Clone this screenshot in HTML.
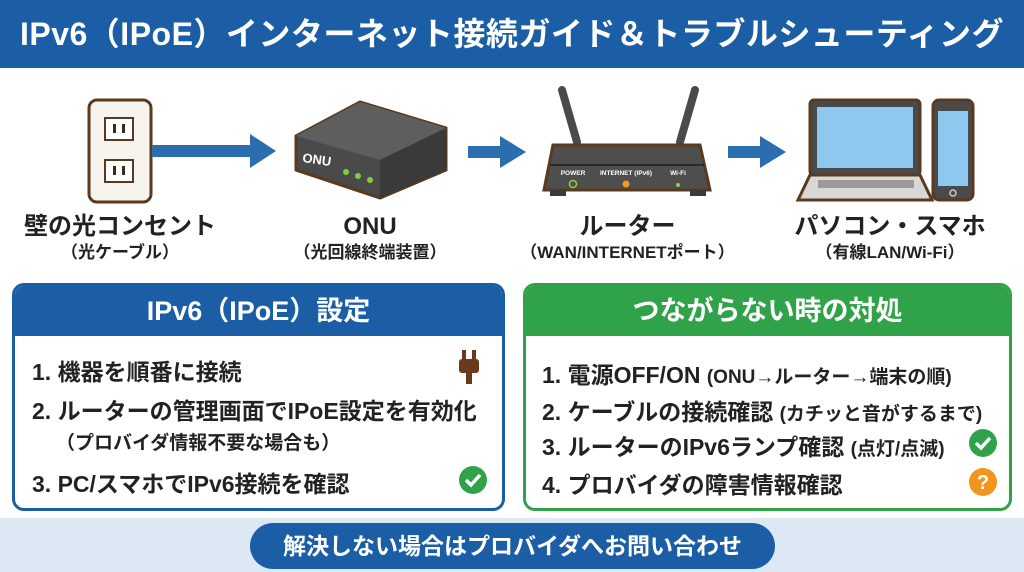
<!DOCTYPE html>
<html><head><meta charset="utf-8"><style>
*{margin:0;padding:0;box-sizing:border-box}
body{width:1024px;height:572px;overflow:hidden;background:#fff;font-family:"Liberation Sans","Noto Sans CJK JP",sans-serif;position:relative;color:#222}
.title{position:absolute;left:0;top:0;width:1024px;height:68px;background:#1b5ea6;color:#fff;font-size:32px;font-weight:bold;text-align:center;line-height:68px;letter-spacing:0.5px}
.lbl{position:absolute;text-align:center;font-weight:bold}
.lbl .a{font-size:24px;color:#222;line-height:30px}
.lbl .b{font-size:17px;color:#222;line-height:22px}
.panel{position:absolute;top:283px;height:228px;border:3px solid;border-radius:12px;overflow:hidden}
.panel .h{height:50px;color:#fff;font-size:27px;font-weight:bold;text-align:center;line-height:50px}
.it{position:absolute;font-size:23px;font-weight:bold;white-space:nowrap;color:#222}
.it small{font-size:19px}
.bot{position:absolute;left:0;top:518px;width:1024px;height:54px;background:#dce9f5}
.pill{position:absolute;left:250px;top:523px;width:525px;height:46px;background:#1b5ea6;border-radius:23px;color:#fff;font-size:23px;font-weight:bold;text-align:center;line-height:46px}
</style></head><body>
<div class="title">IPv6（IPoE）インターネット接続ガイド＆トラブルシューティング</div>

<svg style="position:absolute;left:0;top:70px" width="1024" height="140">
<rect x="89" y="30" width="62" height="102" rx="8" fill="#f7f4ee" stroke="#5a3a1e" stroke-width="3"/>
<rect x="105" y="48" width="28" height="22" fill="#fff" stroke="#5a3a1e" stroke-width="2"/>
<rect x="105" y="90" width="28" height="22" fill="#fff" stroke="#5a3a1e" stroke-width="2"/>
<rect x="113" y="54" width="3" height="9" fill="#3a2a1a"/><rect x="122" y="54" width="3" height="9" fill="#3a2a1a"/>
<rect x="113" y="96" width="3" height="9" fill="#3a2a1a"/><rect x="122" y="96" width="3" height="9" fill="#3a2a1a"/>
<rect x="152" y="75" width="100" height="12" fill="#2a6eb0"/><polygon points="250,64 276,81 250,98" fill="#2a6eb0"/>
<polygon points="296,66 360,32 446,58 446,100 380,128 296,100" fill="#4a4a4a" stroke="#5a3a1e" stroke-width="3"/>
<polygon points="296,66 360,32 446,58 380,90" fill="#5e5e5e"/>
<polygon points="380,90 446,58 446,100 380,128" fill="#3a3a3a"/>
<text x="302" y="92" fill="#fff" font-size="13" font-weight="bold" font-family="Liberation Sans" transform="rotate(8 302 92)">ONU</text>
<circle cx="346" cy="102" r="3" fill="#7ccf3a"/><circle cx="358" cy="106" r="3" fill="#7ccf3a"/><circle cx="370" cy="110" r="3" fill="#7ccf3a"/>
<rect x="468" y="76" width="34" height="12" fill="#2a6eb0"/><polygon points="500,66 526,82 500,98" fill="#2a6eb0"/>
<line x1="562" y1="20" x2="577" y2="72" stroke="#4a4a4a" stroke-width="8" stroke-linecap="round"/>
<line x1="695" y1="20" x2="680" y2="72" stroke="#4a4a4a" stroke-width="8" stroke-linecap="round"/>
<polygon points="553,75 700,75 710,120 544,120" fill="#4e4e4e" stroke="#5a3a1e" stroke-width="3"/>
<line x1="550" y1="95" x2="704" y2="95" stroke="#2a2a2a" stroke-width="2"/>
<text x="573" y="105" fill="#fff" font-size="6.5" font-weight="bold" text-anchor="middle" font-family="Liberation Sans">POWER</text>
<text x="626" y="105" fill="#fff" font-size="6.5" font-weight="bold" text-anchor="middle" font-family="Liberation Sans">INTERNET (IPv6)</text>
<text x="678" y="105" fill="#fff" font-size="6.5" font-weight="bold" text-anchor="middle" font-family="Liberation Sans">Wi-Fi</text>
<circle cx="573" cy="114" r="3.5" fill="none" stroke="#8cd040" stroke-width="1.5"/>
<circle cx="626" cy="114" r="3.5" fill="#f39a1e"/>
<circle cx="678" cy="115" r="2" fill="#8cd040"/>
<rect x="550" y="120" width="16" height="6" fill="#3a3a3a"/><rect x="690" y="120" width="16" height="6" fill="#3a3a3a"/>
<rect x="728" y="76" width="34" height="12" fill="#2a6eb0"/><polygon points="760,66 786,82 760,98" fill="#2a6eb0"/>
<rect x="810" y="30" width="110" height="75" rx="4" fill="#4a4a4a" stroke="#5a3a1e" stroke-width="3"/>
<rect x="817" y="37" width="96" height="61" fill="#8ec8ee"/>
<polygon points="810,105 920,105 932,130 798,130" fill="#d8d8d8" stroke="#5a3a1e" stroke-width="3"/>
<rect x="818" y="110" width="96" height="8" fill="#9a9a9a"/>
<rect x="933" y="30" width="40" height="100" rx="6" fill="#4a4a4a" stroke="#5a3a1e" stroke-width="3"/>
<rect x="938" y="41" width="30" height="75" fill="#8ec8ee"/>
<circle cx="953" cy="123" r="3" fill="none" stroke="#ccc" stroke-width="1.5"/>
</svg>

<div class="lbl" style="left:10px;top:212px;width:220px"><div class="a">壁の光コンセント</div><div class="b">（光ケーブル）</div></div>
<div class="lbl" style="left:260px;top:212px;width:220px"><div class="a">ONU</div><div class="b">（光回線終端装置）</div></div>
<div class="lbl" style="left:500px;top:212px;width:255px"><div class="a">ルーター</div><div class="b">（WAN/INTERNETポート）</div></div>
<div class="lbl" style="left:780px;top:212px;width:220px"><div class="a">パソコン・スマホ</div><div class="b">（有線LAN/Wi-Fi）</div></div>

<div class="panel" style="left:12px;width:493px;border-color:#1b5ea6"><div class="h" style="background:#1b5ea6">IPv6（IPoE）設定</div></div>
<div class="it" style="left:32px;top:353px">1. 機器を順番に接続</div>
<div class="it" style="left:32px;top:392px">2. ルーターの管理画面でIPoE設定を有効化</div>
<div class="it" style="left:56px;top:428px;font-size:19px">（プロバイダ情報不要な場合も）</div>
<div class="it" style="left:32px;top:465px">3. PC/スマホでIPv6接続を確認</div>
<svg style="position:absolute;left:458px;top:350px" width="26" height="36"><rect x="4" y="0" width="4" height="10" fill="#6b3a1a"/><rect x="14" y="0" width="4" height="10" fill="#6b3a1a"/><rect x="1" y="9" width="20" height="14" rx="3" fill="#6b3a1a"/><rect x="8" y="22" width="6" height="12" fill="#6b3a1a"/></svg>
<svg style="position:absolute;left:458px;top:465px" width="30" height="30"><circle cx="15" cy="15" r="14" fill="#2fa24a"/><polyline points="8,15 13,20 22,10" fill="none" stroke="#fff" stroke-width="3.5"/></svg>

<div class="panel" style="left:523px;width:489px;border-color:#2fa24a"><div class="h" style="background:#2fa24a">つながらない時の対処</div></div>
<div class="it" style="left:542px;top:356px">1. 電源OFF/ON <small>(ONU→ルーター→端末の順)</small></div>
<div class="it" style="left:542px;top:393px">2. ケーブルの接続確認 <small>(カチッと音がするまで)</small></div>
<div class="it" style="left:542px;top:428px">3. ルーターのIPv6ランプ確認 <small>(点灯/点滅)</small></div>
<div class="it" style="left:542px;top:466px">4. プロバイダの障害情報確認</div>
<svg style="position:absolute;left:968px;top:428px" width="30" height="30"><circle cx="15" cy="15" r="14" fill="#2fa24a"/><polyline points="8,15 13,20 22,10" fill="none" stroke="#fff" stroke-width="3.5"/></svg>
<svg style="position:absolute;left:968px;top:467px" width="30" height="30"><circle cx="15" cy="15" r="14" fill="#f0961e"/><text x="15" y="22" fill="#fff" font-size="20" font-weight="bold" text-anchor="middle" font-family="Liberation Sans">?</text></svg>

<div class="bot"></div>
<div class="pill">解決しない場合はプロバイダへお問い合わせ</div>
</body></html>
